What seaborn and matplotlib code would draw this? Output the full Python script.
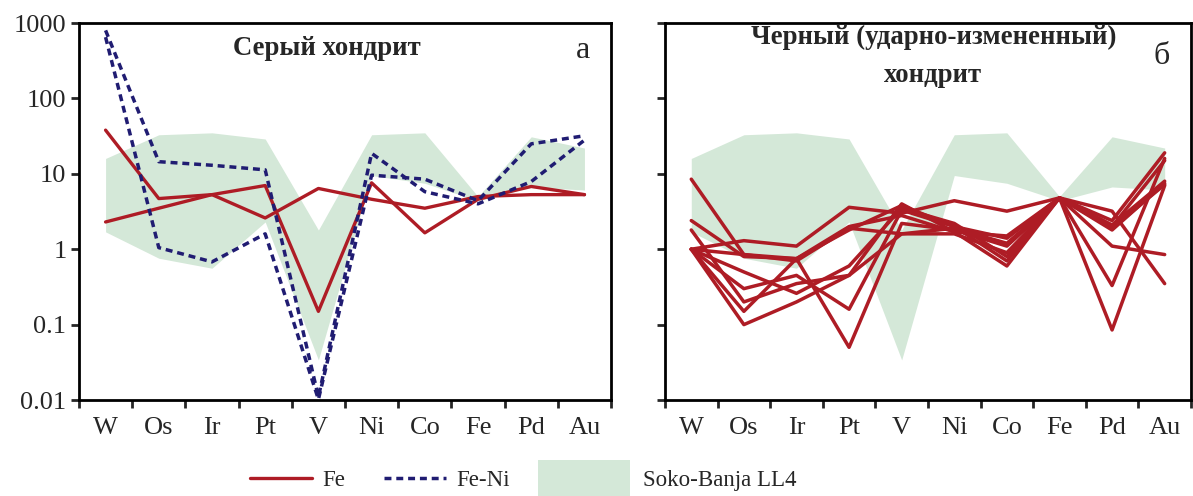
import matplotlib
matplotlib.use("Agg")
import matplotlib.pyplot as plt
import pandas as pd
import seaborn as sns
from matplotlib.lines import Line2D
from matplotlib.patches import Patch, Rectangle
from matplotlib.legend_handler import HandlerPatch
from matplotlib.ticker import FixedLocator, NullLocator

elements = ["W", "Os", "Ir", "Pt", "V", "Ni", "Co", "Fe", "Pd", "Au"]

# Soko-Banja LL4 range
band_upper = [16, 33, 35, 29, 1.8, 33, 35, 5.0, 31, 22]
band_lower = [1.7, 0.76, 0.56, 2.3, 0.034, 9.5, 7.5, 4.4, 6.7, 6.1]

# grey chondrite (a)
gray_fe_1 = [38, 4.7, 5.3, 7.0, 0.15, 7.6, 1.65, 4.6, 6.8, 5.3]
gray_fe_2 = [2.3, 3.5, 5.3, 2.6, 6.4, 4.6, 3.5, 5.0, 5.3, 5.3]
gray_feni_1 = [800, 14.5, 13, 11.3, 0.011, 18.7, 5.8, 4.0, 7.9, 28]
gray_feni_2 = [650, 1.05, 0.68, 1.6, 0.0102, 9.6, 8.5, 4.4, 25, 32]

# black (shock-altered) chondrite (б)
black_fe_1 = [8.5, 0.85, 0.75, 1.8, 3.8, 2.0, 1.4, 4.8, 2.4, 19]
black_fe_2 = [2.4, 0.8, 0.75, 0.05, 2.2, 1.8, 1.1, 4.8, 3.2, 0.35]
black_fe_3 = [1.0, 1.3, 1.1, 3.6, 3.0, 4.4, 3.2, 4.8, 2.0, 15]
black_fe_4 = [1.8, 0.2, 0.35, 0.45, 4.0, 1.7, 0.6, 4.8, 0.085, 7.0]
black_fe_5 = [1.0, 0.5, 0.26, 0.6, 3.5, 2.2, 0.8, 4.8, 0.33, 16]
black_fe_6 = [1.0, 0.1, 0.2, 0.45, 1.6, 1.6, 0.9, 4.8, 1.8, 7.5]
black_fe_7 = [1.0, 0.3, 0.45, 0.16, 3.3, 2.0, 0.7, 4.8, 1.1, 0.85]
black_fe_8 = [1.0, 0.15, 0.75, 2.0, 2.8, 1.7, 1.5, 4.8, 2.1, 8.0]
black_fe_9 = [1.0, 0.85, 0.7, 1.9, 1.6, 1.9, 1.2, 4.8, 1.9, 7.2]

red = "#ae1c25"
navy = "#201c72"
green = "#d4e8d8"

sns.set_style("ticks")
plt.rcParams["font.family"] = ["Liberation Serif", "DejaVu Serif"]


def long_table(series):
    rows = []
    for k, vals in enumerate(series):
        for i, v in enumerate(vals):
            rows.append({"sample": k, "pos": i, "val": v})
    return pd.DataFrame(rows)


fig = plt.figure(figsize=(11.93, 4.96), dpi=100)
ax1 = fig.add_axes([0.0662, 0.1935, 0.446, 0.760])
ax2 = fig.add_axes([0.5574, 0.1935, 0.4409, 0.760])

pos = list(range(len(elements)))
for ax in (ax1, ax2):
    ax.set_yscale("log")
    ax.fill_between(pos, band_lower, band_upper, color=green, lw=0, zorder=1)

sns.lineplot(data=long_table([gray_fe_1, gray_fe_2]), x="pos", y="val", units="sample",
             estimator=None, color=red, lw=2.4, ax=ax1, zorder=3, legend=False)
sns.lineplot(data=long_table([gray_feni_1, gray_feni_2]), x="pos", y="val", units="sample",
             estimator=None, color=navy, lw=2.5, ax=ax1, zorder=3, legend=False,
             linestyle=(0, (2.0, 1.4)))

black = [black_fe_1, black_fe_2, black_fe_3, black_fe_4, black_fe_5,
         black_fe_6, black_fe_7, black_fe_8, black_fe_9]
sns.lineplot(data=long_table(black), x="pos", y="val", units="sample",
             estimator=None, color=red, lw=2.5, ax=ax2, zorder=3, legend=False)

for ax in (ax1, ax2):
    ax.set_ylim(0.01, 1000)
    ax.set_xlim(-0.5, 9.5)
    ax.yaxis.set_major_locator(FixedLocator([0.01, 0.1, 1, 10, 100, 1000]))
    ax.yaxis.set_minor_locator(NullLocator())
    ax.set_xticks(pos)
    ax.set_xticklabels(elements)
    ax.set_xticks([p - 0.5 for p in pos] + [9.5], minor=True)
    ax.tick_params(axis="x", which="major", length=0, pad=12, labelsize=19)
    ax.tick_params(axis="x", which="minor", length=6, width=2, direction="out")
    ax.tick_params(axis="y", which="major", length=6, width=2, direction="out",
                   labelsize=19, pad=3)
    ax.set_xlabel("")
    ax.set_ylabel("")
    for s in ax.spines.values():
        s.set_visible(True)
        s.set_linewidth(2)
        s.set_color("black")

ax1.set_yticklabels(["0.01", "0.1", "1", "10", "100", "1000"])
ax2.set_yticklabels([])

ax1.text(0.465, 0.932, "Серый хондрит", transform=ax1.transAxes, ha="center",
         va="center", fontsize=19.3, fontweight="bold")
ax1.text(0.947, 0.928, "а", transform=ax1.transAxes, ha="center", va="center", fontsize=23)
ax2.text(0.51, 0.963, "Черный (ударно-измененный)", transform=ax2.transAxes,
         ha="center", va="center", fontsize=19.3, fontweight="bold")
ax2.text(0.51, 0.862, "хондрит", transform=ax2.transAxes,
         ha="center", va="center", fontsize=19.3, fontweight="bold")
ax2.text(0.945, 0.91, "б", transform=ax2.transAxes, ha="center", va="center", fontsize=23)


def big_patch(legend, orig_handle, xdescent, ydescent, width, height, fontsize):
    return Rectangle((-xdescent, -ydescent - 0.6 * height), width, 2.2 * height)


row_y = 0.031
fig.legend([Line2D([], [], color=red, lw=2.4),
            Line2D([], [], color=navy, lw=2.5, linestyle=(0, (2.0, 1.4)))],
           ["Fe", "Fe-Ni"], loc="center left", bbox_to_anchor=(250 / 1193, row_y),
           ncol=2, frameon=False, fontsize=16.5, handlelength=2.7, columnspacing=1.7,
           handletextpad=0.45, borderpad=0, borderaxespad=0)
fig.legend([Patch(facecolor=green, edgecolor="none")], ["Soko-Banja LL4"],
           loc="center left", bbox_to_anchor=(538 / 1193, row_y), frameon=False,
           fontsize=16.5, handlelength=4.0, handletextpad=0.6, borderpad=0,
           borderaxespad=0, handler_map={Patch: HandlerPatch(patch_func=big_patch)})

fig.savefig("out.png", dpi=100)
